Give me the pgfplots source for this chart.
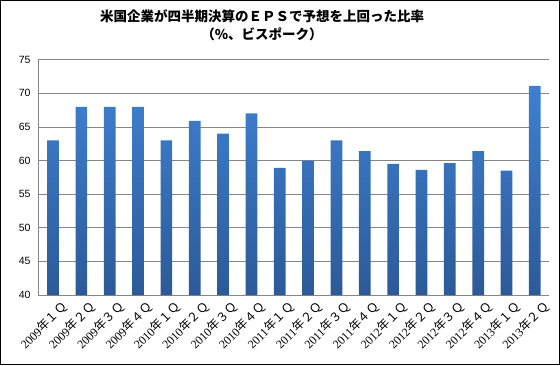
\documentclass[border=0pt]{standalone}
\usepackage{pgfplots}
\pgfplotsset{compat=1.18}
\usepackage{fontspec}
\setmainfont{Liberation Serif}
\newfontfamily\cjk{Noto Sans CJK JP}
\newfontfamily\arial{Liberation Sans}
\definecolor{bartop}{RGB}{62,128,208}
\definecolor{barbot}{RGB}{44,90,152}
\definecolor{gridc}{RGB}{134,134,134}
\begin{document}
\begin{tikzpicture}[x=1pt,y=1pt]
\useasboundingbox (0,0) rectangle (560,365);
\draw[black, line width=1pt] (0.5,0.5) rectangle (559.5,364.5);
\node[font=\cjk\bfseries\fontsize{13.5}{18}\selectfont, align=center] at (262,340) {米国企業が四半期決算のＥＰＳで予想を上回った比率\\（\%、ビスポーク）};
\begin{axis}[
  at={(38pt,70pt)}, anchor=south west, scale only axis,
  width=511pt, height=235.3pt,
  ymin=40, ymax=75, ytick={40,45,...,75},
  xmin=-0.53, xmax=17.5,
  axis x line*=bottom, axis y line*=left,
  axis line style={draw=gridc, line width=0.8pt},
  ymajorgrids, grid style={draw=gridc, line width=0.8pt},
  major tick length=0pt,
  xtick={0,...,17},
  xticklabels={
    2009{\cjk 年１Ｑ},2009{\cjk 年２Ｑ},2009{\cjk 年３Ｑ},2009{\cjk 年４Ｑ},
    2010{\cjk 年１Ｑ},2010{\cjk 年２Ｑ},2010{\cjk 年３Ｑ},2010{\cjk 年４Ｑ},
    2011{\cjk 年１Ｑ},2011{\cjk 年２Ｑ},2011{\cjk 年３Ｑ},2011{\cjk 年４Ｑ},
    2012{\cjk 年１Ｑ},2012{\cjk 年２Ｑ},2012{\cjk 年３Ｑ},2012{\cjk 年４Ｑ},
    2013{\cjk 年１Ｑ},2013{\cjk 年２Ｑ}},
  x tick label style={font=\fontsize{12}{14}\selectfont, rotate=45, anchor=north east, inner sep=1pt, xshift=3pt, yshift=-8pt},
  y tick label style={font=\arial\fontsize{10.5}{12}\selectfont, xshift=-4pt},
  /pgf/number format/assume math mode=true,
]
\addplot[ybar, bar width=11.7pt, draw=none, top color=bartop, bottom color=barbot] coordinates {
(0,63) (1,68) (2,68) (3,68) (4,63) (5,65.9) (6,64) (7,67) (8,58.9)
(9,60) (10,63) (11,61.4) (12,59.5) (13,58.6) (14,59.6) (15,61.4) (16,58.5) (17,71.1)
};
\end{axis}
\end{tikzpicture}
\end{document}
